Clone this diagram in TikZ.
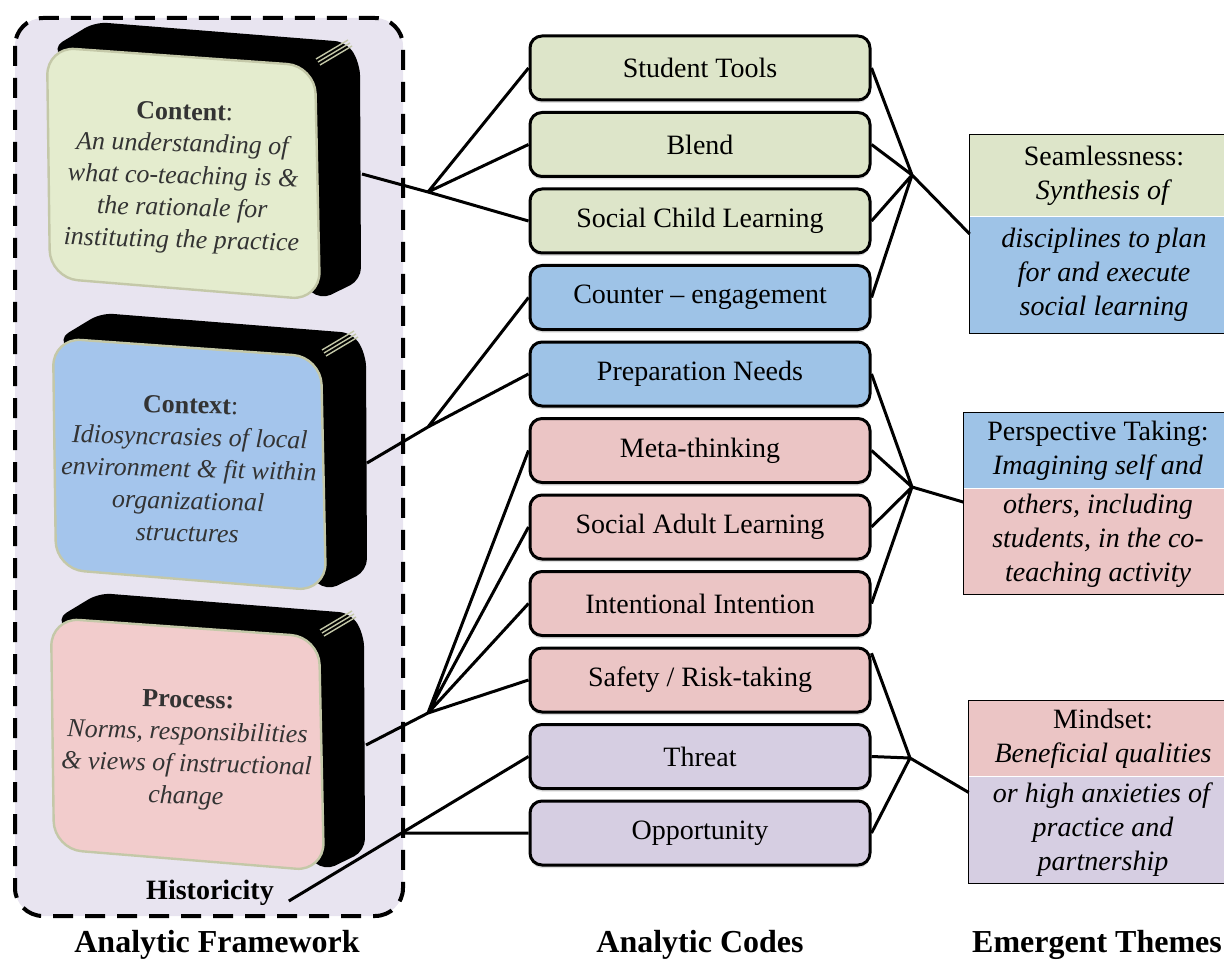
\documentclass[tikz,border=0pt]{standalone}
\usepackage{fontspec}
\setmainfont{Liberation Serif}
\usetikzlibrary{positioning,shadows,calc}
\tikzset{>=latex}

\definecolor{cgreen}{RGB}{221,229,201}
\definecolor{cblue}{RGB}{158,195,231}
\definecolor{cpink}{RGB}{235,197,197}
\definecolor{clilac}{RGB}{214,206,226}
\definecolor{frame}{RGB}{232,228,240}
\definecolor{fgreen}{RGB}{228,236,206}
\definecolor{fblue}{RGB}{164,197,236}
\definecolor{fpink}{RGB}{242,204,204}
\definecolor{rim}{RGB}{196,200,168}

\begin{document}
\begin{tikzpicture}[x=0.5pt, y=-0.5pt,
  code/.style={draw, line width=1.5pt, rounded corners=6pt, minimum width=170pt, minimum height=32pt, font=\fontsize{14}{17}\selectfont, drop shadow={shadow xshift=0pt, shadow yshift=-1.5pt, opacity=0.25}},
  face/.style={align=center, rotate=-1.5, text=black!80, font=\fontsize{13}{16}\selectfont},
  theme/.style={minimum width=134pt, align=center, inner sep=0pt, font=\fontsize{14}{17}\selectfont},
  title/.style={font=\bfseries\fontsize{16}{19}\selectfont},
  link/.style={line width=1.5pt, line join=round},
  node distance=38.25pt, on grid]

\useasboundingbox (0,0) rectangle (1224,962);
\clip (0,0) rectangle (1224,962);

% analytic framework
\draw[fill=frame, line width=2pt, dash pattern=on 10pt off 6pt, rounded corners=14pt] (15,18) rectangle (403,916);
\foreach \dx/\dy/\col in {0/0/fgreen, 6/291/fblue, 4/571/fpink}{
  \begin{scope}[shift={(\dx,\dy)}]
    \fill[black, rounded corners=6pt] (52,48) -- (95,22) -- (347,42) -- (360,64) -- (361,280) -- (320,300) -- cycle;
    \foreach \k in {0,1,2}
      \draw[rim, line width=0.7pt] (316+2*\k,59+3*\k) -- (348+2*\k,40+3*\k);
    \draw[fill=\col, draw=rim, line width=1.2pt, rounded corners=14pt] (47,47) -- (315,66) -- (320,300) -- (50,278) -- cycle;
  \end{scope}
}
\node[face] (content) at (183,178) {\textbf{Content}:\\ \textit{An understanding of}\\ \textit{what co-teaching is \&}\\ \textit{the rationale for}\\ \textit{instituting the practice}};
\node[face] (context) at (189,469) {\textbf{Context}:\\ \textit{Idiosyncrasies of local}\\ \textit{environment \& fit within}\\ \textit{organizational}\\ \textit{structures}};
\node[face] (process) at (187,750) {\textbf{Process:}\\ \textit{Norms, responsibilities}\\ \textit{\& views of instructional}\\ \textit{change}};
\coordinate (contentR) at (362,174);
\coordinate (contextR) at (367,463);
\coordinate (processR) at (366,745);
\node[font=\bfseries\fontsize{14}{17}\selectfont] (hist) at (210,893) {Historicity};

% analytic codes
\node[code, fill=cgreen] (tools) at (700,68) {Student Tools};
\node[code, fill=cgreen, below=of tools] (blend) {Blend};
\node[code, fill=cgreen, below=of blend] (scl) {Social Child Learning};
\node[code, fill=cblue, below=of scl] (counter) {Counter -- engagement};
\node[code, fill=cblue, below=of counter] (prep) {Preparation Needs};
\node[code, fill=cpink, below=of prep] (meta) {Meta-thinking};
\node[code, fill=cpink, below=of meta] (sal) {Social Adult Learning};
\node[code, fill=cpink, below=of sal] (intent) {Intentional Intention};
\node[code, fill=cpink, below=of intent] (safety) {Safety / Risk-taking};
\node[code, fill=clilac, below=of safety] (threat) {Threat};
\node[code, fill=clilac, below=of threat] (opp) {Opportunity};

% emergent themes
\node[theme, fill=cgreen, minimum height=40.5pt] (seamT) at (1104,175.5) {Seamlessness:\\ \textit{Synthesis of}};
\node[theme, fill=cblue, minimum height=58pt, anchor=north] (seamB) at (seamT.south) {\textit{disciplines to plan}\\ \textit{for and execute}\\ \textit{social learning}};
\draw[line width=0.6pt] (seamT.north west) rectangle (seamB.south east);
\node[theme, fill=cblue, minimum height=37.5pt] (persT) at (1098,450.5) {Perspective Taking:\\ \textit{Imagining self and}};
\node[theme, fill=cpink, minimum height=52.5pt, anchor=north] (persB) at (persT.south) {\textit{others, including}\\ \textit{students, in the co-}\\ \textit{teaching activity}};
\draw[line width=0.6pt] (persT.north west) rectangle (persB.south east);
\node[theme, fill=cpink, minimum height=37.5pt] (mindT) at (1103,738.5) {Mindset:\\ \textit{Beneficial qualities}};
\node[theme, fill=clilac, minimum height=53pt, anchor=north] (mindB) at (mindT.south) {\textit{or high anxieties of}\\ \textit{practice and}\\ \textit{partnership}};
\draw[line width=0.6pt] (mindT.north west) rectangle (mindB.south east);

% links
\coordinate (jA) at (428,192);
\coordinate (jB) at (428,427);
\coordinate (jC) at (428,713);
\coordinate (jS) at (912,175);
\coordinate (jP) at (912,487);
\coordinate (jM) at (910,758);
\draw[link] (contentR) -- (jA) -- (scl.west) (tools.west) -- (jA) -- (blend.west);
\draw[link] (contextR) -- (jB) -- (prep.west) (jB) -- (counter.west);
\draw[link] (processR) -- (jC) (meta.west) -- (jC) -- (sal.west) (intent.west) -- (jC) -- (safety.west);
\coordinate (hEnd) at ([xshift=4pt,yshift=-4pt]hist.east);
\draw[link] (hEnd) -- (threat.west);
\draw[link] (opp.west) -- (intersection of hEnd--threat.west and opp.west--opp.east);
\draw[link] (tools.east) -- (jS) -- (blend.east) (scl.east) -- (jS) -- (counter.east) (jS) -- ($(seamB.north west)!0.15!(seamB.south west)$);
\draw[link] (prep.east) -- (jP) -- (meta.east) (sal.east) -- (jP) -- (intent.east) (jP) -- ($(persB.north west)!0.13!(persB.south west)$);
\draw[link] ($(safety.north east)!0.1!(safety.south east)$) -- (jM) -- (threat.east) (opp.east) -- (jM) -- ($(mindB.north west)!0.15!(mindB.south west)$);

\node[title] (fwork) at (217,945) {Analytic Framework};
\node[title] (codes) at (700,945) {Analytic Codes};
\node[title] (themes) at (1097,945) {Emergent Themes};
\end{tikzpicture}
\end{document}
